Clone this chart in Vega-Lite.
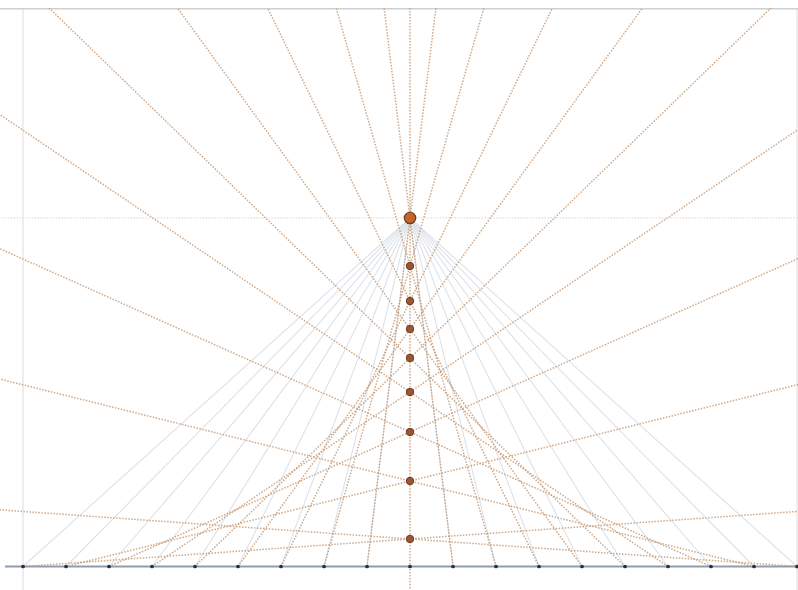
{
  "$schema": "https://vega.github.io/schema/vega-lite/v6.json",
  "width": 798,
  "height": 582,
  "autosize": {"type": "none"},
  "padding": {"left": 0, "top": 8, "right": 0, "bottom": 0},
  "background": "white",
  "config": {"view": {"stroke": null}},
  "datasets": {
    "vgrid": [{"x": -9}, {"x": 9}],
    "hgrid": [{"y": 8.105, "kind": "dot"}],
    "border": [{"y": 12.975}],
    "fan": [
      {"x": -9, "y": 0, "x2": 0, "y2": 8.105},
      {"x": -8, "y": 0, "x2": 0, "y2": 8.105},
      {"x": -7, "y": 0, "x2": 0, "y2": 8.105},
      {"x": -6, "y": 0, "x2": 0, "y2": 8.105},
      {"x": -5, "y": 0, "x2": 0, "y2": 8.105},
      {"x": -4, "y": 0, "x2": 0, "y2": 8.105},
      {"x": -3, "y": 0, "x2": 0, "y2": 8.105},
      {"x": -2, "y": 0, "x2": 0, "y2": 8.105},
      {"x": -1, "y": 0, "x2": 0, "y2": 8.105},
      {"x": 1, "y": 0, "x2": 0, "y2": 8.105},
      {"x": 2, "y": 0, "x2": 0, "y2": 8.105},
      {"x": 3, "y": 0, "x2": 0, "y2": 8.105},
      {"x": 4, "y": 0, "x2": 0, "y2": 8.105},
      {"x": 5, "y": 0, "x2": 0, "y2": 8.105},
      {"x": 6, "y": 0, "x2": 0, "y2": 8.105},
      {"x": 7, "y": 0, "x2": 0, "y2": 8.105},
      {"x": 8, "y": 0, "x2": 0, "y2": 8.105},
      {"x": 9, "y": 0, "x2": 0, "y2": 8.105}
    ],
    "baseline": [{"x": -9.42, "x2": 9.1, "y": 0}],
    "rays": [
      {"x": 0, "y": -1, "x2": 0, "y2": 14},
      {"x": 1, "y": 0, "x2": -2, "y2": 24.315},
      {"x": -1, "y": 0, "x2": 2, "y2": 24.315},
      {"x": 2, "y": 0, "x2": -4, "y2": 20.964},
      {"x": -2, "y": 0, "x2": 4, "y2": 20.964},
      {"x": 3, "y": 0, "x2": -6, "y2": 18.522},
      {"x": -3, "y": 0, "x2": 6, "y2": 18.522},
      {"x": 4, "y": 0, "x2": -8, "y2": 16.569},
      {"x": -4, "y": 0, "x2": 8, "y2": 16.569},
      {"x": 5, "y": 0, "x2": -10, "y2": 14.547},
      {"x": -5, "y": 0, "x2": 10, "y2": 14.547},
      {"x": 6, "y": 0, "x2": -12, "y2": 12.174},
      {"x": -6, "y": 0, "x2": 12, "y2": 12.174},
      {"x": 7, "y": 0, "x2": -14, "y2": 9.384},
      {"x": -7, "y": 0, "x2": 14, "y2": 9.384},
      {"x": 8, "y": 0, "x2": -16, "y2": 5.964},
      {"x": -8, "y": 0, "x2": 16, "y2": 5.964},
      {"x": 9, "y": 0, "x2": -18, "y2": 1.92},
      {"x": -9, "y": 0, "x2": 18, "y2": 1.92}
    ],
    "basepts": [
      {"x": -9}, {"x": -8}, {"x": -7}, {"x": -6}, {"x": -5}, {"x": -4}, {"x": -3}, {"x": -2}, {"x": -1},
      {"x": 0}, {"x": 1}, {"x": 2}, {"x": 3}, {"x": 4}, {"x": 5}, {"x": 6}, {"x": 7}, {"x": 8}, {"x": 9}
    ],
    "dots": [
      {"x": 0, "y": 6.988}, {"x": 0, "y": 6.174}, {"x": 0, "y": 5.523}, {"x": 0, "y": 4.849},
      {"x": 0, "y": 4.058}, {"x": 0, "y": 3.128}, {"x": 0, "y": 1.988}, {"x": 0, "y": 0.64}
    ],
    "apex": [{"x": 0, "y": 8.105}]
  },
  "layer": [
    {
      "data": {"name": "vgrid"},
      "mark": {"type": "rule", "color": "#e3e3e3", "strokeWidth": 1.2, "clip": true},
      "encoding": {"x": {"field": "x", "type": "quantitative"}}
    },
    {
      "data": {"name": "hgrid"},
      "mark": {"type": "rule", "color": "#dedede", "strokeWidth": 1.2, "strokeDash": [1.5, 1.5], "clip": true},
      "encoding": {"y": {"field": "y", "type": "quantitative"}}
    },
    {
      "data": {"name": "border"},
      "mark": {"type": "rule", "color": "#d0d0d0", "strokeWidth": 2, "clip": true},
      "encoding": {"y": {"field": "y", "type": "quantitative"}}
    },
    {
      "data": {"name": "fan"},
      "mark": {"type": "rule", "color": "#dce2ea", "strokeWidth": 1.1, "clip": true},
      "encoding": {
        "x": {"field": "x", "type": "quantitative"},
        "y": {"field": "y", "type": "quantitative"},
        "x2": {"field": "x2"},
        "y2": {"field": "y2"}
      }
    },
    {
      "data": {"name": "baseline"},
      "mark": {"type": "rule", "color": "#8d9db0", "strokeWidth": 2, "clip": true},
      "encoding": {
        "x": {"field": "x", "type": "quantitative"},
        "x2": {"field": "x2"},
        "y": {"field": "y", "type": "quantitative"}
      }
    },
    {
      "data": {"name": "rays"},
      "mark": {"type": "rule", "color": "#c79a74", "opacity": 0.85, "strokeWidth": 1.5, "strokeDash": [1.5, 1.5], "clip": true},
      "encoding": {
        "x": {"field": "x", "type": "quantitative"},
        "y": {"field": "y", "type": "quantitative"},
        "x2": {"field": "x2"},
        "y2": {"field": "y2"}
      }
    },
    {
      "data": {"name": "basepts"},
      "mark": {"type": "circle", "color": "#2b2f36", "size": 14, "opacity": 1},
      "encoding": {
        "x": {"field": "x", "type": "quantitative"},
        "y": {"datum": 0, "type": "quantitative"}
      }
    },
    {
      "data": {"name": "dots"},
      "mark": {"type": "point", "shape": "circle", "filled": true, "fill": "#9c5634", "stroke": "#6e3a22", "strokeWidth": 1, "size": 55, "opacity": 1},
      "encoding": {
        "x": {"field": "x", "type": "quantitative"},
        "y": {"field": "y", "type": "quantitative"}
      }
    },
    {
      "data": {"name": "apex"},
      "mark": {"type": "point", "shape": "circle", "filled": true, "fill": "#c4642c", "stroke": "#6e3a22", "strokeWidth": 1.2, "size": 130, "opacity": 1},
      "encoding": {
        "x": {"field": "x", "type": "quantitative"},
        "y": {"field": "y", "type": "quantitative"}
      }
    }
  ],
  "resolve": {"scale": {"x": "shared", "y": "shared"}},
  "encoding": {
    "x": {"scale": {"domain": [-9.535, 9.023], "nice": false, "zero": false}, "axis": null},
    "y": {"scale": {"domain": [-0.5465, 12.988], "nice": false, "zero": false}, "axis": null}
  }
}
